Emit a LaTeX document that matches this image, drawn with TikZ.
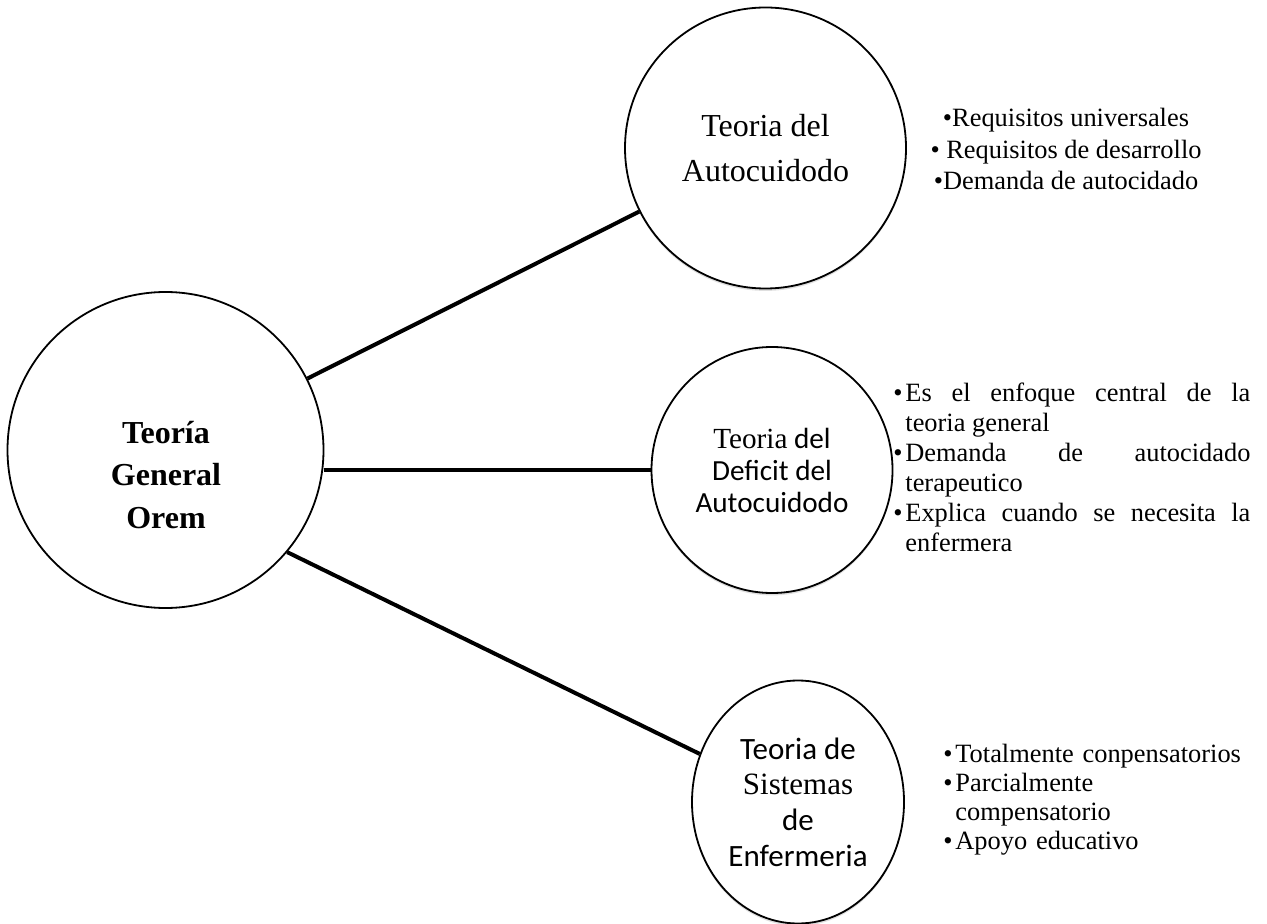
\documentclass[tikz,border=0pt]{standalone}
\usepackage{fontspec}
\setmainfont{Liberation Serif}
\newfontfamily\carlito{Carlito}
\usetikzlibrary{shapes.geometric,shadows}

% bullet with hanging indent
\newcommand{\bul}{\par\hangindent=6pt\hangafter=1\noindent\makebox[6pt][l]{\textbullet}}

\begin{document}
\begin{tikzpicture}[x=0.5pt,y=-0.5pt,
    hub/.style={circle,draw,line width=0.9pt,minimum size=158pt,inner sep=0pt},
    theory/.style={draw,line width=0.9pt,inner sep=0pt,fill=white,
      drop shadow={shadow xshift=0pt,shadow yshift=-1.2pt,opacity=0.25}},
    link/.style={line width=2pt},
    points/.style={inner sep=0pt,font=\fontsize{13.2}{15}\selectfont}]

        \useasboundingbox (0,0) rectangle (1267,924);

        %%% CENTRAL CIRCLE
        \node[hub] (gen) at (165.5,450) {};
        \node[font=\bfseries\fontsize{16}{21.25}\selectfont,align=center] (gentxt) at (166,475) {Teoría\\General\\Orem};

        %%% THEORIES

        % Autocuidado
        \node[theory,circle,minimum size=140.5pt,font=\fontsize{16}{22.5}\selectfont,align=center] (auto) at (765.5,148) {Teoria del\\Autocuidodo};

        % Deficit
        \node[theory,ellipse,minimum width=120.5pt,minimum height=123pt,font=\carlito\fontsize{14.6}{16}\selectfont,align=center] (defi) at (772,470) {{\rmfamily Teoria} del\\Deficit del\\Autocuidodo};

        % Sistemas
        \node[theory,ellipse,minimum width=106pt,minimum height=121.5pt,font=\carlito\fontsize{15.5}{17.8}\selectfont,align=center] (sist) at (798,802) {Teoria de\\{\rmfamily Sistemas}\\de\\Enfermeria};

        %%% CONNECTORS
        \draw[link] (gen) -- (auto);
        \draw[link] (defi.west) -- (defi.west -| gen.east);
        \draw[link] (gen.-40) -- (sist);

        %%% BULLET LISTS
        \node[points,font=\fontsize{13.2}{15.75}\selectfont,align=center] (autolist) at (1066,149) {\textbullet Requisitos universales\\\textbullet{} Requisitos de desarrollo\\\textbullet Demanda de autocidado};

        \node[points,text width=178.5pt,align=justify,anchor=north west] (defilist) at (893,371) {\tolerance=10000 \hyphenpenalty=10000
          \bul Es el enfoque central de la\linebreak teoria general
          \bul Demanda de autocidado\linebreak terapeutico
          \bul Explica cuando se necesita la\linebreak enfermera\par};

        \node[points,font=\fontsize{13.2}{14.5}\selectfont,text width=160pt,align=left,anchor=north west] (sistlist) at (943,733) {%
          \bul Totalmente conpensatorios
          \bul Parcialmente\newline compensatorio
          \bul Apoyo educativo\par};

\end{tikzpicture}
\end{document}
